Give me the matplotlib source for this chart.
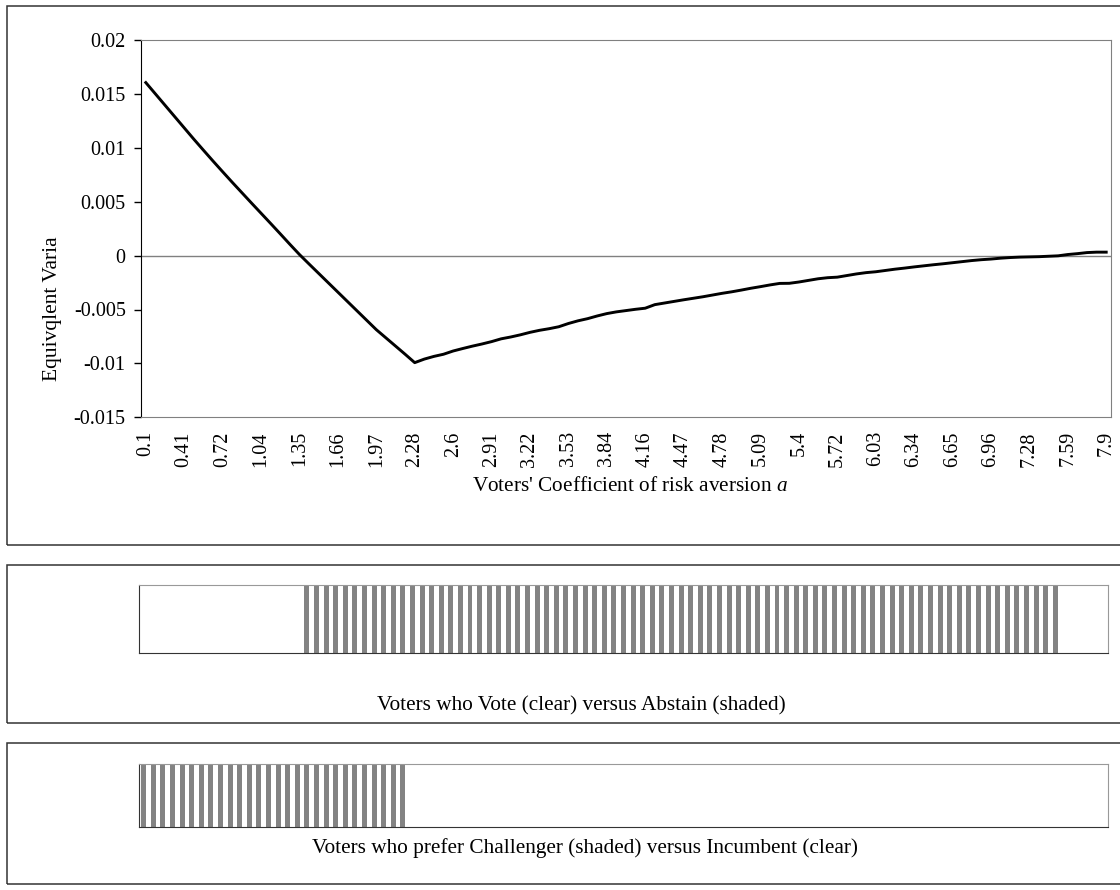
import numpy as np
import matplotlib
matplotlib.use('Agg')
import matplotlib.pyplot as plt
from matplotlib.patches import Rectangle

plt.rcParams['font.family'] = ['Liberation Serif', 'DejaVu Serif']
plt.rcParams['axes.unicode_minus'] = False
plt.rcParams['mathtext.fontset'] = 'custom'
plt.rcParams['mathtext.rm'] = 'Liberation Serif'
plt.rcParams['mathtext.it'] = 'Liberation Serif:italic'

# x categories: 101 values of a, every 4th one is labelled
tick_labels = ['0.1', '0.41', '0.72', '1.04', '1.35', '1.66', '1.97', '2.28', '2.6',
               '2.91', '3.22', '3.53', '3.84', '4.16', '4.47', '4.78', '5.09', '5.4',
               '5.72', '6.03', '6.34', '6.65', '6.96', '7.28', '7.59', '7.9']

# equivalent variation, in thousandths
equiv_var_milli = [
    16.05, 15.0, 13.95, 12.9, 11.85, 10.8, 9.78, 8.77, 7.78, 6.8,
    5.84, 4.88, 3.93, 2.98, 2.02, 1.05, 0.1, -0.78, -1.65, -2.52,
    -3.39, -4.26, -5.13, -6.0, -6.87, -7.63, -8.39, -9.15, -9.93, -9.6,
    -9.35, -9.15, -8.85, -8.62, -8.4, -8.2, -7.98, -7.72, -7.55, -7.35,
    -7.12, -6.93, -6.78, -6.6, -6.3, -6.05, -5.85, -5.6, -5.38, -5.22,
    -5.1, -4.98, -4.88, -4.55, -4.4, -4.25, -4.1, -3.96, -3.82, -3.66,
    -3.5, -3.36, -3.2, -3.03, -2.88, -2.72, -2.58, -2.57, -2.45, -2.3,
    -2.15, -2.05, -2.0, -1.85, -1.7, -1.58, -1.5, -1.38, -1.26, -1.16,
    -1.05, -0.95, -0.85, -0.76, -0.66, -0.56, -0.46, -0.38, -0.32, -0.24,
    -0.18, -0.14, -0.12, -0.1, -0.06, -0.02, 0.1, 0.18, 0.28, 0.32,
    0.32]

y_ticks = [-0.015, -0.01, -0.005, 0, 0.005, 0.01, 0.015, 0.02]
y_tick_labels = ['-0.015', '-0.01', '-0.005', '0', '0.005', '0.01', '0.015', '0.02']

# shaded cells of the two strips (category indices)
abstain_first, abstain_last = 17, 95
challenger_first, challenger_last = 0, 27

W, H = 1120, 890
fig = plt.figure(figsize=(W / 100, H / 100), dpi=100)


def box(x0, y0, x1, y1):
    # pixel box (top-left origin) -> figure fraction rect
    return [x0 / W, 1 - y1 / H, (x1 - x0) / W, (y1 - y0) / H]


# outer frames of the three panels
for x0, y0, x1, y1 in [(7, 6, 1135, 545), (7, 565, 1135, 723), (7, 743, 1135, 884)]:
    l, b, w, h = box(x0, y0, x1, y1)
    fig.add_artist(Rectangle((l, b), w, h, transform=fig.transFigure,
                             fill=False, edgecolor='#333333', linewidth=1.1))

# main line chart
ax = fig.add_axes(box(141, 40, 1111, 417.3))
n = len(equiv_var_milli)
idx = np.arange(n)
ev = np.array(equiv_var_milli) / 1000
ax.plot(idx, ev, color='black', linewidth=2.1)
ax.axhline(0, color='#808080', linewidth=1, zorder=1)
ax.set_xlim(-0.5, n - 0.5)
ax.set_ylim(-0.015, 0.02)
ax.set_yticks(y_ticks)
ax.set_yticklabels(y_tick_labels)
ax.set_xticks(idx[::4])
ax.set_xticklabels(tick_labels, rotation=90)
ax.tick_params(axis='x', length=0, pad=10, labelsize=14.5)
ax.tick_params(axis='y', length=5, width=1, pad=6, labelsize=14.5, direction='out')
for s in ['top', 'right', 'bottom']:
    ax.spines[s].set_color('#808080')
ax.spines['left'].set_color('black')

fig.text(52 / W, 1 - 309 / H, 'Equivqlent Varia', rotation=90,
         ha='center', va='center', fontsize=15.5)
fig.text(630 / W, 1 - 486 / H, "Voters' Coefficient of risk aversion $a$",
         ha='center', va='center', fontsize=15.3)

# strips
cells = np.arange(n)


def strip(rect, first, last):
    a = fig.add_axes(rect)
    mask = (cells >= first) & (cells <= last)
    a.bar(cells[mask], 1, width=0.52, color='#838383', linewidth=0)
    a.set_xlim(-0.5, n - 0.5)
    a.set_ylim(0, 1)
    a.set_xticks([])
    a.set_yticks([])
    for s in ['left', 'bottom']:
        a.spines[s].set_color('#333333')
    for s in ['top', 'right']:
        a.spines[s].set_color('#999999')
    return a


strip(box(139, 585, 1108, 653), abstain_first, abstain_last)
fig.text(581 / W, 1 - 706 / H, 'Voters who Vote (clear) versus Abstain (shaded)',
         ha='center', va='center', fontsize=15.3)

strip(box(139, 764, 1108, 827), challenger_first, challenger_last)
fig.text(585 / W, 1 - 848 / H,
         'Voters who prefer Challenger (shaded) versus Incumbent (clear)',
         ha='center', va='center', fontsize=15.3)

fig.savefig('out.png', dpi=100, facecolor='white')
